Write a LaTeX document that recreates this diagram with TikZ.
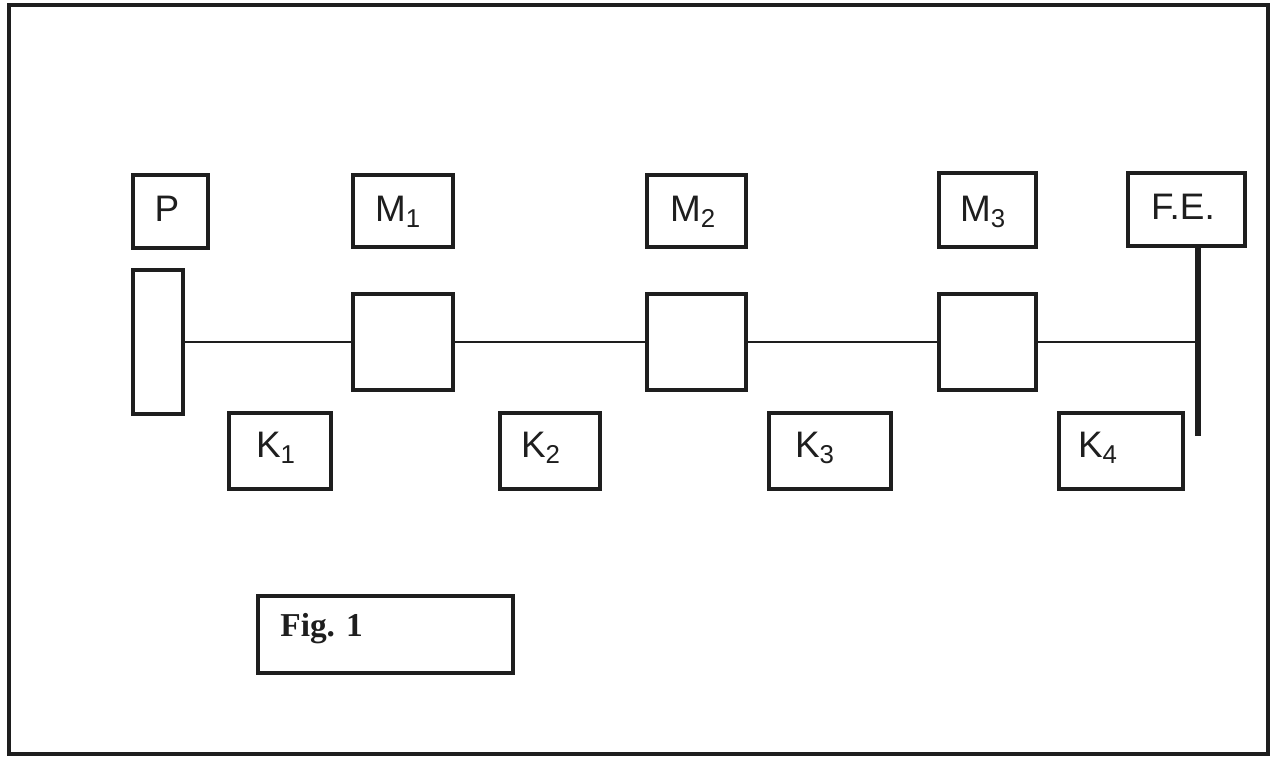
\documentclass[tikz,border=0pt]{standalone}
\usepackage{fontspec}
\setmainfont{Liberation Sans}
\newfontfamily\figfont{Liberation Serif}
\usetikzlibrary{calc}
\definecolor{ink}{HTML}{1E1E1E}
\tikzset{
  box/.style={draw=ink, line width=1.8pt, rectangle, inner sep=0pt},
  lbl/.style={text=ink, font=\fontsize{21}{24}\selectfont, inner sep=0pt, anchor=base},
  rodline/.style={draw=ink, line width=1.15pt},
  frame/.style={draw=ink, line width=2.8pt},
  rod/.style={draw=ink, line width=3.4pt}
}
\begin{document}
\begin{tikzpicture}[x=0.02cm,y=-0.02cm]
\useasboundingbox (0,0) rectangle (1278,759);
\draw[frame] (9,5) rectangle (1268,754);
% top label boxes
\node[box, minimum width=1.50cm, minimum height=1.46cm] (p) at (170.5,211.5) {};
\node[box, minimum width=2.00cm, minimum height=1.44cm] (m1l) at (403,211) {};
\node[box, minimum width=1.98cm, minimum height=1.44cm] (m2l) at (696.5,211) {};
\node[box, minimum width=1.94cm, minimum height=1.48cm] (m3l) at (987.5,210) {};
\node[box, minimum width=2.34cm, minimum height=1.46cm] (fe) at (1186.5,209.5) {};
% chain elements
\node[box, minimum width=1.00cm, minimum height=2.88cm] (wall) at (158,342) {};
\node[box, minimum width=2.00cm, minimum height=1.92cm] (m1) at (403,342) {};
\node[box, minimum width=1.98cm, minimum height=1.92cm] (m2) at (696.5,342) {};
\node[box, minimum width=1.94cm, minimum height=1.92cm] (m3) at (987.5,342) {};
% spring label boxes
\node[box, minimum width=2.04cm, minimum height=1.52cm] (k1) at (280,451) {};
\node[box, minimum width=2.00cm, minimum height=1.52cm] (k2) at (550,451) {};
\node[box, minimum width=2.44cm, minimum height=1.52cm] (k3) at (830,451) {};
\node[box, minimum width=2.48cm, minimum height=1.52cm] (k4) at (1121,451) {};
% figure caption box
\node[box, minimum width=5.10cm, minimum height=1.54cm] (fig) at (385.5,634.5) {};
% labels
\node[lbl] (tp) at (167,222) {P};
\node[lbl] (tm1) at (398,222) {M\textsubscript{1}};
\node[lbl] (tm2) at (693,222) {M\textsubscript{2}};
\node[lbl] (tm3) at (983,222) {M\textsubscript{3}};
\node[lbl] (tfe) at (1183,220) {F.E.};
\node[lbl] (tk1) at (276,458) {K\textsubscript{1}};
\node[lbl] (tk2) at (541,458) {K\textsubscript{2}};
\node[lbl] (tk3) at (815,458) {K\textsubscript{3}};
\node[lbl] (tk4) at (1098,458) {K\textsubscript{4}};
\node[text=ink, inner sep=0pt, anchor=base west, font=\figfont\bfseries\fontsize{19}{22}\selectfont] (tfig) at (280,637) {Fig. 1};
% rod of the fixed end
\coordinate (rt) at (1198,246);
\coordinate (rb) at (1198,436);
\draw[rod] (rt) -- (rb);
% connectors
\draw[rodline] (wall.east) -- (m1.west);
\draw[rodline] (m1.east) -- (m2.west);
\draw[rodline] (m2.east) -- (m3.west);
\draw[rodline] (m3.east) -- (m3.east -| rt);
\end{tikzpicture}
\end{document}
